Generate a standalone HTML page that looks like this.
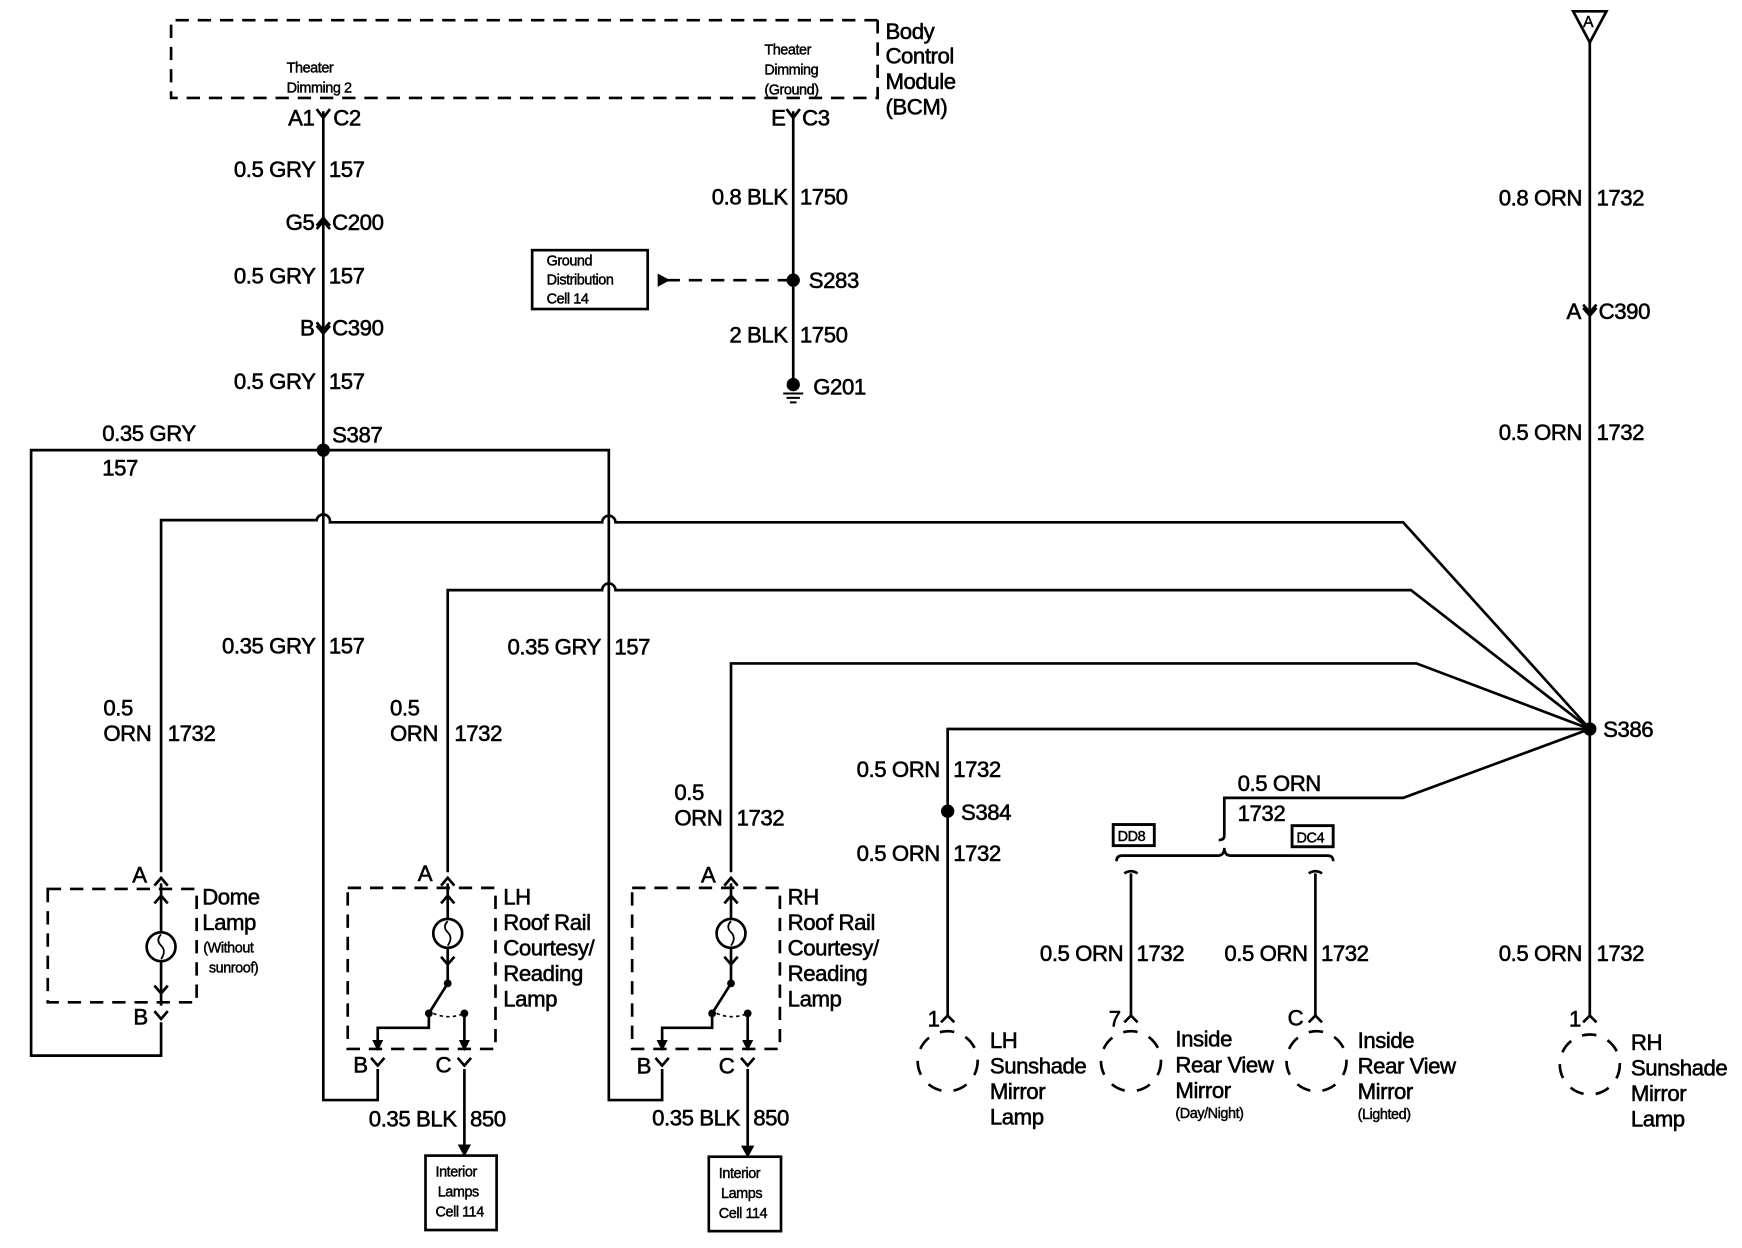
<!DOCTYPE html>
<html><head><meta charset="utf-8"><style>
html,body{margin:0;padding:0;background:#fff;}
svg{display:block;}
text{font-family:"Liberation Sans",sans-serif;font-size:20px;fill:#000;stroke:#000;stroke-width:0.5px;letter-spacing:-0.4px;}
.s{font-size:13px;letter-spacing:-0.4px;stroke-width:0.4px;}
.m{font-size:14px;}
.e{text-anchor:end;}
</style></head><body>
<svg width="1742" height="1248" viewBox="0 0 1568 1123" xmlns="http://www.w3.org/2000/svg">
<g fill="none" stroke="#000" stroke-width="2.4">
<path d="M790 18 H154 V88 H790 V18" stroke-dasharray="12,8"/>
<path d="M291 100 V990 H340 V962"/>
<path d="M291 405 H548 V990 H596 V962"/>
<path d="M291 405 H28 V950 H145 V920"/>
<path d="M714 100 V346"/>
<path d="M600 252 H714" stroke-dasharray="12,8"/>
<rect x="479" y="225" width="104" height="53"/>
<path d="M705 354 H723 M708 358 H720 M711 362 H717" stroke-width="1.8"/>
<path d="M1431 38 V915"/>
<path d="M1416 10 H1446 L1431 38 Z"/>
<path d="M1431 656 L1263 470 H554 A6 6 0 0 0 542 470 H297 A6 6 0 0 0 285 468 H145 V785"/>
<path d="M1431 656 L1270 531 H554 A6 6 0 0 0 542 531 H403 V785"/>
<path d="M1431 656 L1275 597 H658 V785"/>
<path d="M1431 656 H853 V915"/>
<path d="M1431 656 L1263 718 H1102 V752 Q1102 756 1097 756"/>
<path d="M1005 775 Q1005 770 1010 770 H1096 Q1102 770 1102 763 Q1102 770 1108 770 H1195 Q1200 770 1200 775"/>
<path d="M1012 786 Q1018 782 1024 786 M1018 786 V915 M1178 786 Q1184 782 1190 786 M1184 786 V915"/>
<rect x="1002" y="742" width="37" height="19" stroke-width="2.6"/>
<rect x="1163" y="743" width="37" height="19" stroke-width="2.6"/>
<rect x="43" y="800" width="134" height="102" stroke-dasharray="12,8"/>
<path d="M145 795 V905"/>
<circle cx="145" cy="852" r="13" fill="#fff"/>
<path d="M145 841 Q140 846 145 851 Q150 856 145 863" stroke-width="1.6"/>
<rect x="313" y="799" width="133" height="145" stroke-dasharray="12,8"/>
<path d="M403 795 V885 L386 912 V925 H340 V944 M418 912 V944"/>
<circle cx="403" cy="840" r="13" fill="#fff"/>
<path d="M403 829 Q398 834 403 839 Q408 844 403 851" stroke-width="1.6"/>
<path d="M390 912 Q404 918 418 912" stroke-dasharray="3,3" stroke-width="1.5"/>
<path d="M418 962 V1035"/>
<rect x="383" y="1040" width="64" height="67"/>
<rect x="569" y="799" width="133" height="145" stroke-dasharray="12,8"/>
<path d="M658 795 V885 L641 912 V925 H596 V944 M673 912 V944"/>
<circle cx="658" cy="840" r="13" fill="#fff"/>
<path d="M658 829 Q653 834 658 839 Q663 844 658 851" stroke-width="1.6"/>
<path d="M645 912 Q659 918 673 912" stroke-dasharray="3,3" stroke-width="1.5"/>
<path d="M673 962 V1035"/>
<rect x="638" y="1041" width="65" height="67"/>
<circle cx="853" cy="955" r="27" stroke-dasharray="13,11"/>
<circle cx="1018" cy="955" r="27" stroke-dasharray="13,11"/>
<circle cx="1185" cy="955" r="27" stroke-dasharray="13,11"/>
<circle cx="1431" cy="958" r="27" stroke-dasharray="13,11"/>
<path d="M285 98 L291 106 L297 98 M708 98 L714 106 L720 98 M285 203 L291 196 L297 203 M285 206 L291 199 L297 206 M285 290 L291 297 L297 290 M285 293 L291 300 L297 293 M1425 274 L1431 281 L1437 274 M1425 277 L1431 284 L1437 277"/>
<path d="M139 797 L145 790 L151 797 M397 797 L403 790 L409 797 M652 797 L658 790 L664 797 M139 910 L145 917 L151 910 M334 952 L340 959 L346 952 M412 952 L418 959 L424 952 M590 952 L596 959 L602 952 M667 952 L673 959 L679 952 M847 920 L853 914 L859 920 M1012 920 L1018 914 L1024 920 M1178 920 L1184 914 L1190 920 M1425 920 L1431 914 L1437 920"/>
<path d="M139 813 L145 806 L151 813 M139 887 L145 894 L151 887 M397 813 L403 806 L409 813 M652 813 L658 806 L664 813 M397 861 L403 868 L409 861 M652 861 L658 868 L664 861"/>
</g>
<g fill="#000">
<circle cx="291" cy="405" r="6"/><circle cx="714" cy="252" r="6"/><circle cx="714" cy="346" r="6"/>
<circle cx="1431" cy="656" r="6"/><circle cx="853" cy="730" r="6"/>
<circle cx="386" cy="912" r="3.5"/><circle cx="403" cy="885" r="3.5"/><circle cx="418" cy="912" r="3.5"/>
<circle cx="641" cy="912" r="3.5"/><circle cx="658" cy="885" r="3.5"/><circle cx="673" cy="912" r="3.5"/>
<path d="M592 246 L603 252 L592 258 Z"/>
<path d="M335 936 L340 946 L345 936 Z M413 936 L418 946 L423 936 Z M591 936 L596 946 L601 936 Z M668 936 L673 946 L678 936 Z M412 1030 L418 1041 L424 1030 Z M667 1031 L673 1042 L679 1031 Z"/>
</g>
<text x="797" y="35">Body</text><text x="797" y="57">Control</text><text x="797" y="80">Module</text><text x="797" y="103">(BCM)</text>
<text class="s" x="258" y="65">Theater</text><text class="s" x="258" y="83">Dimming 2</text>
<text class="s" x="688" y="49">Theater</text><text class="s" x="688" y="67">Dimming</text><text class="s" x="688" y="85">(Ground)</text>
<text class="e" x="283" y="113">A1</text><text x="300" y="113">C2</text>
<text class="e" x="707" y="113">E</text><text x="722" y="113">C3</text>
<text class="e" x="284" y="159">0.5 GRY</text><text x="296" y="159">157</text>
<text class="e" x="283" y="207">G5</text><text x="299" y="207">C200</text>
<text class="e" x="284" y="255">0.5 GRY</text><text x="296" y="255">157</text>
<text class="e" x="283" y="302">B</text><text x="299" y="302">C390</text>
<text class="e" x="284" y="350">0.5 GRY</text><text x="296" y="350">157</text>
<text x="92" y="397">0.35 GRY</text><text x="92" y="428">157</text>
<text x="299" y="398">S387</text>
<text class="e" x="709" y="184">0.8 BLK</text><text x="720" y="184">1750</text>
<text x="728" y="259">S283</text>
<text class="e" x="709" y="308">2 BLK</text><text x="720" y="308">1750</text>
<text x="732" y="355">G201</text>
<text class="s" x="492" y="239">Ground</text><text class="s" x="492" y="256">Distribution</text><text class="s" x="492" y="273">Cell 14</text>
<text class="m" x="1425" y="24">A</text>
<text class="e" x="1424" y="185">0.8 ORN</text><text x="1437" y="185">1732</text>
<text class="e" x="1423" y="287">A</text><text x="1439" y="287">C390</text>
<text class="e" x="1424" y="396">0.5 ORN</text><text x="1437" y="396">1732</text>
<text x="1443" y="663">S386</text>
<text class="e" x="1424" y="865">0.5 ORN</text><text x="1437" y="865">1732</text>
<text class="e" x="1423" y="924">1</text>
<text x="1468" y="945">RH</text><text x="1468" y="968">Sunshade</text><text x="1468" y="991">Mirror</text><text x="1468" y="1014">Lamp</text>
<text class="e" x="284" y="588">0.35 GRY</text><text x="296" y="588">157</text>
<text class="e" x="541" y="589">0.35 GRY</text><text x="553" y="589">157</text>
<text x="93" y="644">0.5</text><text x="93" y="667">ORN</text><text x="151" y="667">1732</text>
<text x="351" y="644">0.5</text><text x="351" y="667">ORN</text><text x="409" y="667">1732</text>
<text x="607" y="720">0.5</text><text x="607" y="743">ORN</text><text x="663" y="743">1732</text>
<text class="e" x="846" y="699">0.5 ORN</text><text x="858" y="699">1732</text>
<text x="865" y="738">S384</text>
<text class="e" x="846" y="775">0.5 ORN</text><text x="858" y="775">1732</text>
<text x="1114" y="712">0.5 ORN</text><text x="1114" y="739">1732</text>
<text class="s" x="1006" y="757">DD8</text><text class="s" x="1167" y="758">DC4</text>
<text class="e" x="1011" y="865">0.5 ORN</text><text x="1023" y="865">1732</text>
<text class="e" x="1177" y="865">0.5 ORN</text><text x="1189" y="865">1732</text>
<text x="119" y="794">A</text><text x="376" y="793">A</text><text x="631" y="794">A</text>
<text x="120" y="922">B</text>
<text x="182" y="814">Dome</text><text x="182" y="837">Lamp</text>
<text class="s" x="183" y="857">(Without</text><text class="s" x="188" y="875">sunroof)</text>
<text x="453" y="814">LH</text><text x="453" y="837">Roof Rail</text><text x="453" y="860">Courtesy/</text><text x="453" y="883">Reading</text><text x="453" y="906">Lamp</text>
<text x="709" y="814">RH</text><text x="709" y="837">Roof Rail</text><text x="709" y="860">Courtesy/</text><text x="709" y="883">Reading</text><text x="709" y="906">Lamp</text>
<text x="318" y="965">B</text><text x="392" y="965">C</text>
<text x="573" y="966">B</text><text x="647" y="966">C</text>
<text class="e" x="411" y="1014">0.35 BLK</text><text x="423" y="1014">850</text>
<text class="e" x="666" y="1013">0.35 BLK</text><text x="678" y="1013">850</text>
<text class="s" x="392" y="1059">Interior</text><text class="s" x="394" y="1077">Lamps</text><text class="s" x="392" y="1095">Cell 114</text>
<text class="s" x="647" y="1060">Interior</text><text class="s" x="649" y="1078">Lamps</text><text class="s" x="647" y="1096">Cell 114</text>
<text x="835" y="924">1</text><text x="998" y="924">7</text><text x="1159" y="923">C</text>
<text x="891" y="943">LH</text><text x="891" y="966">Sunshade</text><text x="891" y="989">Mirror</text><text x="891" y="1012">Lamp</text>
<text x="1058" y="942">Inside</text><text x="1058" y="965">Rear View</text><text x="1058" y="988">Mirror</text><text class="s" x="1058" y="1006">(Day/Night)</text>
<text x="1222" y="943">Inside</text><text x="1222" y="966">Rear View</text><text x="1222" y="989">Mirror</text><text class="s" x="1222" y="1007">(Lighted)</text>
</svg>
</body></html>
